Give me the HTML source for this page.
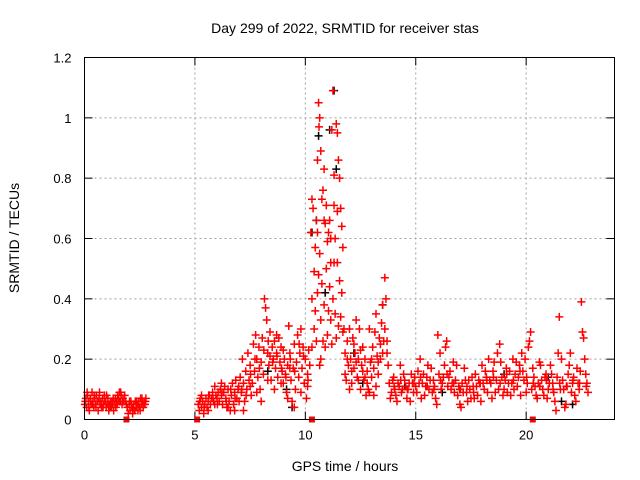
<!DOCTYPE html>
<html><head><meta charset="utf-8"><style>
html,body{margin:0;padding:0;background:#fff;}
svg{display:block;font-family:"Liberation Sans",sans-serif;}
</style></head><body>
<svg id="chart" width="640" height="480" viewBox="0 0 640 480" xmlns="http://www.w3.org/2000/svg">
<rect width="640" height="480" fill="#fff"/>
<text x="345" y="33" font-size="14" text-anchor="middle" fill="#000">Day 299 of 2022, SRMTID for receiver stas</text>
<text transform="translate(19,238) rotate(-90)" font-size="14" text-anchor="middle" fill="#000">SRMTID / TECUs</text>
<text x="345" y="471" font-size="14" text-anchor="middle" fill="#000">GPS time / hours</text>
<g id="grid"></g>
<g id="ticks"></g>
<g id="black"></g>
<g id="red"></g>
<rect x="84.5" y="57.5" width="530" height="362" fill="none" stroke="#000" stroke-width="1"/>
</svg>
<script>
const xTicks=[0,5,10,15,20];
const yTicks=[0,0.2,0.4,0.6,0.8,1,1.2];
const yTickLabels=["0","0.2","0.4","0.6","0.8","1","1.2"];
const redX=[0.02,0.06,0.1,0.14,0.18,0.22,0.26,0.3,0.34,0.38,0.42,0.46,0.5,0.54,0.58,0.62,0.66,0.7,0.74,0.78,0.82,0.86,0.9,0.94,0.98,1.02,1.06,1.1,1.14,1.18,1.22,1.26,1.3,1.34,1.38,1.42,1.46,1.5,1.54,1.58,1.62,1.66,1.7,1.74,1.78,1.82,1.86,1.9,1.94,1.98,2.02,2.06,2.1,2.14,2.18,2.22,2.26,2.3,2.34,2.38,2.42,2.46,2.5,2.54,2.58,2.62,2.66,2.7,2.74,2.78,
0.04,0.12,0.2,0.28,0.36,0.44,0.52,0.6,0.68,0.76,0.84,0.92,1.0,1.08,1.16,1.24,1.32,1.4,1.48,1.56,1.64,1.72,2.04,2.12,2.2,2.28,2.36,2.44,2.52,2.6,2.68,2.76,
5.15,5.2,5.25,5.3,5.35,5.4,5.45,5.5,5.55,5.6,5.65,5.7,5.75,5.8,5.85,5.9,5.95,6.0,6.05,6.1,6.15,6.2,6.25,6.3,6.35,6.4,6.45,6.5,6.55,6.6,6.65,6.7,6.75,6.8,6.85,6.9,6.95,7.0,5.3,5.6,5.9,6.2,6.5,6.8,
5.22,5.42,5.62,5.82,6.02,6.22,6.42,6.62,6.82,6.98,
7.05,7.1,7.15,7.2,7.25,7.3,7.35,7.4,7.45,7.5,7.55,7.6,7.65,7.7,7.75,7.8,7.85,7.9,7.95,8.0,8.05,8.1,8.15,8.2,8.25,8.3,8.35,8.4,8.45,8.5,8.55,8.6,8.65,8.7,8.75,8.8,8.85,8.9,8.95,9.0,9.05,9.1,9.15,9.2,9.25,9.3,9.35,9.4,9.45,9.5,9.55,9.6,9.65,9.7,9.75,9.8,9.85,9.9,9.95,10.0,10.05,10.1,10.15,10.2,
7.2,7.5,7.8,8.0,8.3,8.6,8.9,9.2,9.5,9.8,10.1,8.4,8.7,9.0,9.3,
7.12,7.32,7.52,7.72,7.92,8.12,8.32,8.52,8.72,8.92,9.12,9.32,9.52,9.72,9.92,10.12,
10.25,10.3,10.35,10.4,10.45,10.5,10.55,10.6,10.62,10.65,10.7,10.75,10.8,10.85,10.9,10.95,11.0,11.05,11.1,11.15,11.2,11.25,11.3,11.35,11.4,11.45,11.5,11.55,11.6,11.65,11.7,
10.3,10.4,10.45,10.5,10.55,10.6,10.65,10.7,10.75,10.8,10.85,10.9,10.95,11.0,11.05,11.1,11.15,11.2,11.25,11.3,11.35,11.4,11.45,11.5,11.55,11.6,11.65,11.7,10.65,10.7,10.3,10.55,10.85,11.15,11.45,11.3,
11.75,11.8,11.85,11.9,11.95,12.0,12.05,12.1,12.15,12.2,12.25,12.3,12.35,12.4,12.45,12.5,12.55,12.6,12.65,12.7,12.75,12.8,12.85,12.9,12.95,13.0,13.05,13.1,13.15,13.2,13.25,13.3,13.35,13.4,13.45,13.5,13.55,13.6,13.65,13.7,13.75,
11.8,12.0,12.2,12.4,12.6,12.8,13.0,13.2,13.4,13.6,13.1,12.9,
11.9,12.1,12.3,12.5,12.7,13.3,13.5,13.7,
13.8,13.9,14.0,14.1,14.2,14.3,14.4,14.5,14.6,14.7,14.8,14.9,15.0,15.1,15.2,15.3,15.4,15.5,15.6,15.7,15.8,15.9,16.0,16.1,16.2,16.3,16.4,16.5,16.6,16.7,16.8,16.9,17.0,17.1,17.2,17.3,17.4,17.5,17.6,17.7,17.8,17.9,18.0,18.1,18.2,18.3,18.4,18.5,18.6,18.7,18.8,18.9,19.0,19.1,19.2,19.3,19.4,19.5,19.6,19.7,19.8,19.9,20.0,20.1,20.2,20.3,20.4,20.5,20.6,20.7,20.8,20.9,21.0,21.1,21.2,21.3,21.4,21.5,21.6,21.7,21.8,21.9,22.0,22.1,22.2,22.3,22.4,22.5,22.6,22.7,22.8,
13.85,13.95,14.05,14.15,14.25,14.35,14.45,14.55,14.65,14.75,14.85,14.95,15.05,15.15,15.25,15.35,15.45,15.55,15.65,15.75,15.85,15.95,16.05,16.15,16.25,16.35,16.45,16.55,16.65,16.75,16.85,16.95,17.05,17.15,17.25,17.35,17.45,17.55,17.65,17.75,17.85,17.95,18.05,18.15,18.25,18.35,18.45,18.55,18.65,18.75,18.85,18.95,19.05,19.15,19.25,19.35,19.45,19.55,19.65,19.75,19.85,19.95,20.05,20.15,20.25,20.35,20.45,20.55,20.65,20.75,20.85,20.95,21.05,21.15,21.25,21.35,21.45,21.55,21.65,21.75,21.85,21.95,22.05,22.15,22.25,22.35,22.45,22.55,22.65,22.75,
14.02,14.32,14.62,14.92,15.22,15.52,15.82,16.12,16.42,16.72,17.02,17.32,17.62,17.92,18.22,18.52,18.82,19.12,19.42,19.72,20.02,20.32,20.62,20.92,21.22,21.52,21.82,22.12,22.42,22.72];
const redY=[.05,.07,.04,.08,.06,.03,.07,.05,.09,.06,.04,.07,.05,.08,.06,.03,.07,.05,.06,.04,.07,.05,.08,.06,.04,.05,.07,.03,.05,.06,.04,.05,.07,.05,.06,.04,.06,.08,.07,.09,.06,.08,.05,.07,.06,.08,.06,.05,.04,.02,.05,.03,.06,.04,.02,.05,.03,.06,.04,.05,.03,.06,.04,.07,.05,.06,.04,.06,.05,.07,
.06,.09,.04,.06,.05,.08,.04,.06,.09,.05,.04,.06,.08,.05,.04,.06,.03,.07,.05,.06,.09,.06,.06,.05,.04,.03,.06,.05,.03,.07,.05,.06,
.05,.03,.07,.04,.06,.02,.05,.07,.04,.06,.08,.05,.07,.09,.06,.11,.08,.07,.09,.06,.1,.08,.05,.09,.11,.07,.04,.1,.06,.03,.08,.12,.05,.09,.13,.07,.1,.06,.08,.03,.05,.12,.04,.03,
.06,.04,.08,.07,.05,.09,.06,.1,.07,.11,
.14,.09,.2,.12,.06,.16,.1,.22,.13,.18,.08,.12,.25,.16,.28,.2,.14,.24,.1,.19,.27,.15,.4,.37,.33,.22,.18,.29,.13,.24,.2,.26,.17,.22,.14,.27,.19,.24,.16,.12,.2,.15,.09,.18,.31,.22,.13,.06,.17,.25,.1,.19,.28,.14,.22,.3,.17,.24,.12,.2,.07,.15,.23,.18,
.03,.11,.09,.06,.13,.1,.12,.07,.04,.09,.11,.21,.28,.23,.17,
.1,.08,.15,.2,.17,.23,.26,.19,.21,.17,.14,.2,.16,.25,.21,.13,
.62,.73,.7,.49,.57,.66,.86,1.05,.97,1.0,.89,.73,.76,.83,.65,.71,.59,.62,.66,.52,.96,1.09,.81,.6,.98,.95,.86,.8,.7,.64,.57,
.4,.3,.36,.26,.42,.48,.55,.33,.45,.26,.38,.24,.5,.28,.36,.44,.33,.25,.4,.52,.35,.27,.52,.31,.46,.34,.42,.29,.18,.2,.24,.62,.66,.6,.69,.71,
.3,.22,.13,.26,.18,.3,.2,.12,.27,.17,.22,.33,.14,.2,.3,.1,.18,.24,.13,.2,.08,.16,.1,.3,.19,.14,.24,.17,.29,.35,.21,.15,.27,.2,.32,.38,.26,.47,.4,.22,.18,
.15,.1,.25,.13,.16,.12,.2,.11,.25,.3,.08,.09,
.2,.16,.19,.23,.14,.19,.22,.26,
.12,.09,.14,.08,.12,.18,.1,.13,.07,.12,.15,.09,.11,.16,.2,.12,.08,.14,.1,.17,.13,.07,.28,.22,.12,.18,.26,.14,.1,.19,.13,.08,.05,.12,.17,.09,.13,.07,.11,.15,.08,.12,.18,.1,.14,.2,.12,.16,.09,.22,.25,.14,.1,.17,.12,.08,.2,.15,.11,.18,.22,.13,.09,.24,.29,.17,.11,.07,.19,.13,.08,.15,.1,.18,.12,.06,.14,.34,.2,.1,.05,.15,.22,.12,.08,.17,.1,.39,.27,.15,.09,
.07,.13,.1,.06,.11,.09,.15,.11,.1,.06,.12,.14,.09,.12,.07,.15,.11,.18,.13,.09,.11,.05,.15,.1,.14,.24,.11,.16,.12,.09,.18,.11,.04,.09,.13,.06,.1,.14,.07,.11,.13,.06,.12,.16,.09,.13,.07,.19,.13,.1,.19,.08,.13,.09,.16,.12,.1,.19,.14,.08,.16,.2,.12,.26,.1,.14,.08,.12,.18,.1,.14,.07,.12,.15,.09,.03,.22,.1,.13,.04,.11,.18,.09,.14,.06,.12,.16,.29,.2,.12,
.11,.13,.1,.12,.14,.11,.1,.13,.15,.12,.1,.11,.09,.12,.13,.14,.12,.15,.13,.16,.14,.12,.11,.13,.1,.12,.11,.13,.12,.11];
const blackX=[11.3,10.5,11.1,10.6,10.3,12.6,9.4,13.5,21.6,22.1,9.15,8.3,19.0,17.0,21.0,10.9,11.4,12.2,14.5,16.2];
const blackY=[1.09,.66,.96,.94,.62,.12,.04,.38,.06,.05,.1,.16,.15,.1,.14,.42,.83,.22,.11,.09];
const squareX=[1.9,5.1,10.3,20.3];
const squareY=[0,0,0,0];

const L=84.5,R=614.5,T=57.5,B=419.5;
const sx=v=>L+(v-0)/24*(R-L);
const sy=v=>B-(v-0)/1.2*(B-T);
const NS="http://www.w3.org/2000/svg";
function mk(tag,attrs,parent){const e=document.createElementNS(NS,tag);for(const k in attrs)e.setAttribute(k,attrs[k]);parent.appendChild(e);return e;}
const grid=document.getElementById('grid'),ticks=document.getElementById('ticks');
yTicks.forEach((t,i)=>{
  const y=sy(t);
  if(i>0&&i<yTicks.length-1){const g=mk('line',{x1:L,x2:R,y1:y,y2:y,stroke:'#a0a0a0','stroke-dasharray':'2,3'},grid);
  
  }
  mk('line',{x1:L,x2:L+8,y1:y,y2:y,stroke:'#000'},ticks);
  mk('line',{x1:R,x2:R-8,y1:y,y2:y,stroke:'#000'},ticks);
  const tx=mk('text',{x:L-13,y:y+5,'font-size':'13','text-anchor':'end',fill:'#000'},ticks);
  tx.textContent=yTickLabels[i];
  
  
});
xTicks.forEach(t=>{
  const x=sx(t);
  if(t>0){const g=mk('line',{x1:x,x2:x,y1:T,y2:B,stroke:'#a0a0a0','stroke-dasharray':'2,3'},grid);
  
  }
  mk('line',{x1:x,x2:x,y1:B,y2:B-8,stroke:'#000'},ticks);
  mk('line',{x1:x,x2:x,y1:T,y2:T+8,stroke:'#000'},ticks);
  const tx=mk('text',{x:x,y:B+20,'font-size':'13','text-anchor':'middle',fill:'#000'},ticks);
  tx.textContent=String(t);
  
  
});
function plus(g,xs,ys,col){
  for(let i=0;i<xs.length;i++){
    const x=sx(xs[i]),y=sy(ys[i]);
    const p=mk('path',{d:`M${x-4},${y}h8M${x},${y-4}v8`,stroke:col,'stroke-width':'1.5',fill:'none'},g);
    
    
  }
}
plus(document.getElementById('black'),blackX,blackY,'#000');
plus(document.getElementById('red'),redX,redY,'#ff0000');
const red=document.getElementById('red');
for(let i=0;i<squareX.length;i++){
  const r=mk('rect',{x:sx(squareX[i])-3,y:sy(squareY[i])-3,width:6,height:6,fill:'#ff0000'},red);
  
  
}
</script>
</body></html>
